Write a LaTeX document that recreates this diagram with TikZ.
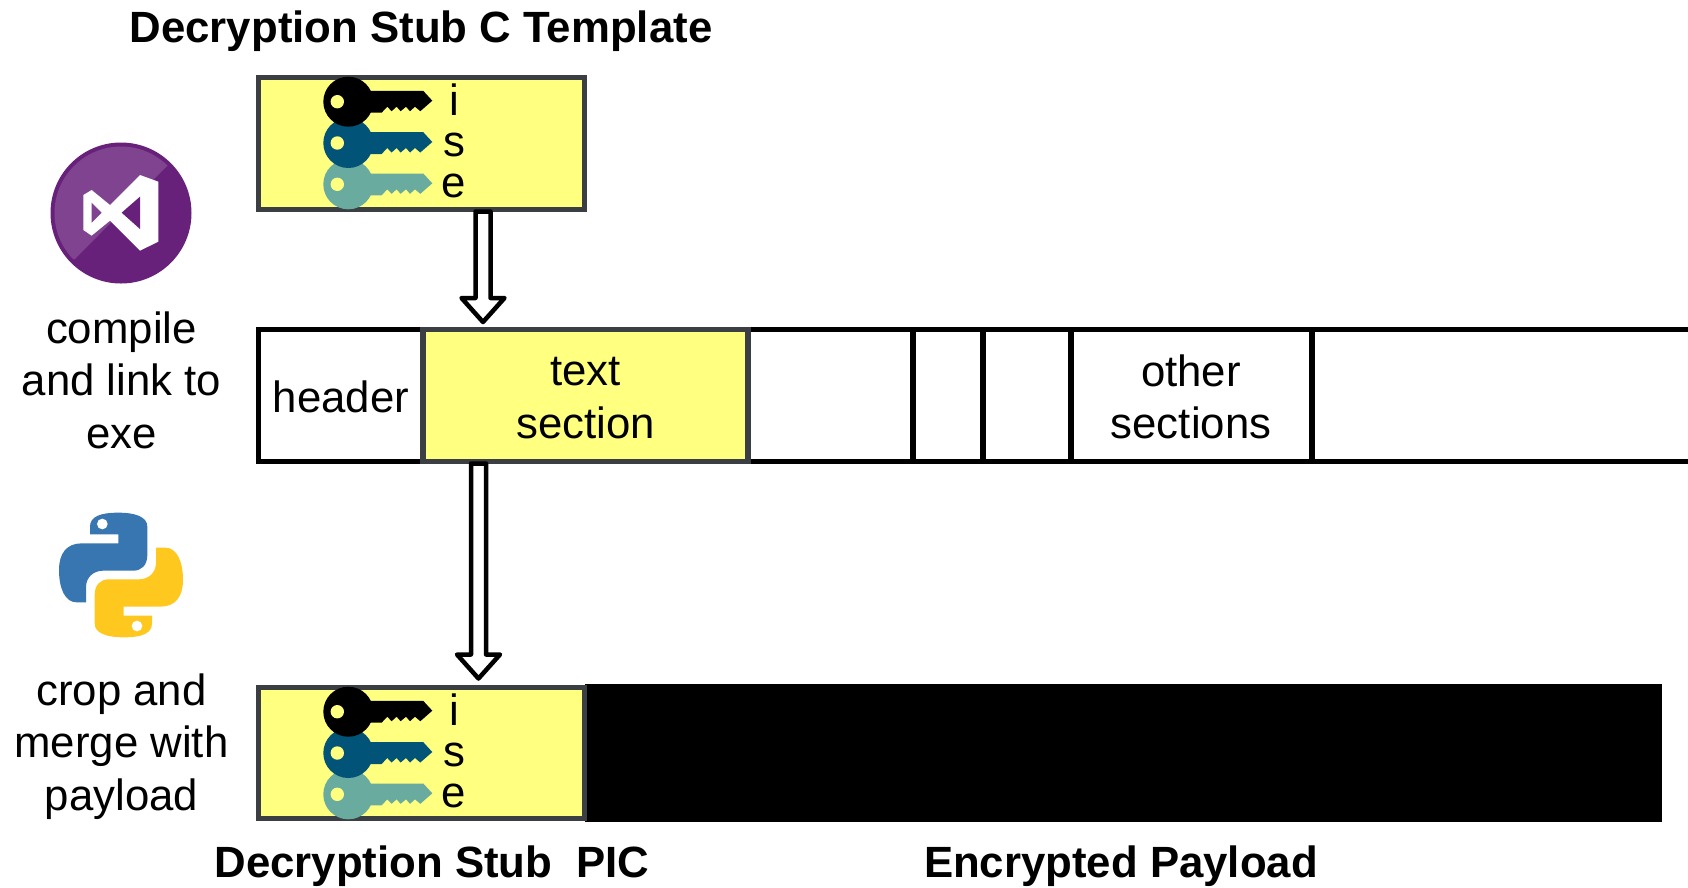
\documentclass[tikz,border=0pt]{standalone}
\usepackage{fontspec}
\setmainfont{Liberation Sans}
\usetikzlibrary{calc}
\definecolor{stubyellow}{HTML}{FFFF80}
\definecolor{stubgray}{HTML}{3B3F44}
\definecolor{keyblue}{HTML}{015478}
\definecolor{keyteal}{HTML}{69AB9E}
\definecolor{vspurple}{HTML}{68217A}
\definecolor{vslight}{HTML}{7F438F}
\definecolor{pyblue}{HTML}{3776B0}
\definecolor{pyyellow}{HTML}{FFC81E}
\newcommand{\snakepath}{(150,103)--(235,103)--(235,130)--(125,130) .. controls (80,130) and (57,160) .. (57,210) .. controls (57,265) and (75,307) .. (110,307)--(138,307)--(138,262) .. controls (138,232) and (160,212) .. (190,212)--(280,212) .. controls (305,212) and (322,195) .. (322,165)--(322,80) .. controls (322,50) and (285,38) .. (235,38) .. controls (180,38) and (150,50) .. (150,80)--cycle}
\tikzset{
	lbl/.style={inner sep=0pt, outer sep=0pt, align=center, font=\fontsize{43.75}{52.5}\selectfont},
	ttl/.style={lbl, font=\fontsize{43.75}{52.5}\selectfont\bfseries},
	sect/.style={inner sep=0pt, outer sep=0pt, draw=black, line width=5.5, minimum height=132},
	stub/.style={sect, draw=stubgray, fill=stubyellow},
	hollowarrow/.style={draw=black, fill=white, line width=4.5, line join=round,
		to path={let \p1=(\tikztostart), \p2=(\tikztotarget) in
			(\x1-7.5pt,\y1-2pt)--(\x1-7.5pt,\y2+33pt)--(\x1-21.5pt,\y2+33pt)--(\x1,\y2+9pt)
			--(\x1+21.5pt,\y2+33pt)--(\x1+7.5pt,\y2+33pt)--(\x1+7.5pt,\y1-2pt)--cycle}},
	keyshape/.pic={
		\path[pic actions] (0,0) circle (25);
		\path[pic actions] (20,-10.8)--(75,-10.8)--(84,-1)--(72,9.5)--(66.7,5)--(61.7,9.5)--(57.7,5)--(52.3,9.5)--(48.3,5)--(43.3,9.5)--(39,5)--(33.3,11)--(20,11)--cycle;
		\fill[stubyellow] (-11,0) circle (6.7);
	}
}
\begin{document}
\begin{tikzpicture}[x=1pt, y=-1pt, line cap=butt]
	\useasboundingbox (0,0) rectangle (1688,887);
	\node[ttl] (titlestub) at (421,31) {Decryption Stub C Template};
	% executable row
	\node[sect, minimum width=164.4] (header) at (340.8,395.5) {};
	\node[sect, minimum width=165] (blanka) at (830.5,395.5) {};
	\node[sect, minimum width=70] (blankb) at (948,395.5) {};
	\node[sect, minimum width=88] (blankc) at (1027,395.5) {};
	\node[sect, minimum width=241] (other) at (1191.5,395.5) {};
	\node[stub, minimum width=325] (textsec) at (585.5,395.5) {};
	\coordinate (rowtop) at (1688,329.5);
	\coordinate (rowbot) at (1688,461.5);
	\draw[line width=5.5] (other.north east)--(rowtop);
	\draw[line width=5.5] (other.south east)--(rowbot);
	\node[lbl] (headerlbl) at (341,396.5) {header};
	\node[lbl] (textlbl) at (585.5,398) {text\\section};
	\node[lbl] (otherlbl) at (1191,397) {other\\sections};
	% stubs
	\node[stub, minimum width=325.9] (stubtop) at (421.55,143.5) {};
	\node[draw=none, fill=black, inner sep=0pt, outer sep=0pt, minimum width=1077, minimum height=137.5] (payload) at (1123.5,752.75) {};
	\node[stub, minimum width=325.9, minimum height=131] (stubpic) at (421.55,753) {};
	\foreach \ky in {101.7,711.7} {
		\pic[fill=keyteal] at (348.3,\ky+82.6) {keyshape};
		\pic[fill=keyblue] at (348.3,\ky+41.3) {keyshape};
		\pic[fill=black] at (348.3,\ky) {keyshape};
	}
	\foreach \nm/\lbase in {a/115,b/725} {
		\node[lbl, anchor=base] (keyi\nm) at (454,\lbase) {i};
		\node[lbl, anchor=base] (keys\nm) at (454,\lbase+41) {s};
		\node[lbl, anchor=base] (keye\nm) at (454,\lbase+82) {e};
	}
	\draw[hollowarrow] ([xshift=61.45pt]stubtop.south) to ([xshift=-102.5pt,yshift=-1.5pt]textsec.north);
	\draw[hollowarrow] ([xshift=-107pt]textsec.south) to ([xshift=56.95pt]stubpic.north);
	% visual studio logo
	\fill[vspurple] (121,213) circle (70.5);
	\begin{scope}
		\clip (121,213) circle (66.5);
		\fill[vslight] (75,259)--(168,165)--(168,100)--(40,100)--(40,259)--cycle;
	\end{scope}
	\begin{scope}[shift={(40,130)}, scale=1/3]
		\fill[white] (130,195)--(155,180)--(210,225)--(300,135)--(355,155)--(355,335)--(300,362)--(210,272)--(155,317)--(130,300)--cycle;
		\fill[vslight] (155,218)--(185,248)--(155,278)--cycle;
		\fill[vspurple] (300,200)--(245,248)--(300,297)--cycle;
	\end{scope}
	\node[lbl] (compile) at (121.5,380) {compile\\and link to\\exe};
	% python logo
	\begin{scope}[shift={(40,500)}, scale=1/3]
		\fill[pyblue] \snakepath;
		\fill[white] (187,72) circle (16);
		\begin{scope}[rotate around={180:(243,225)}]
			\fill[pyyellow] \snakepath;
		\end{scope}
		\fill[white] (291,378) circle (16);
	\end{scope}
	\node[lbl] (crop) at (121.5,746.5) {crop and\\merge with\\payload};
	\node[ttl] (titlepic) at (432,866) {Decryption Stub\ \ PIC};
	\node[ttl] (titlepay) at (1121,866) {Encrypted Payload};
\end{tikzpicture}
\end{document}
